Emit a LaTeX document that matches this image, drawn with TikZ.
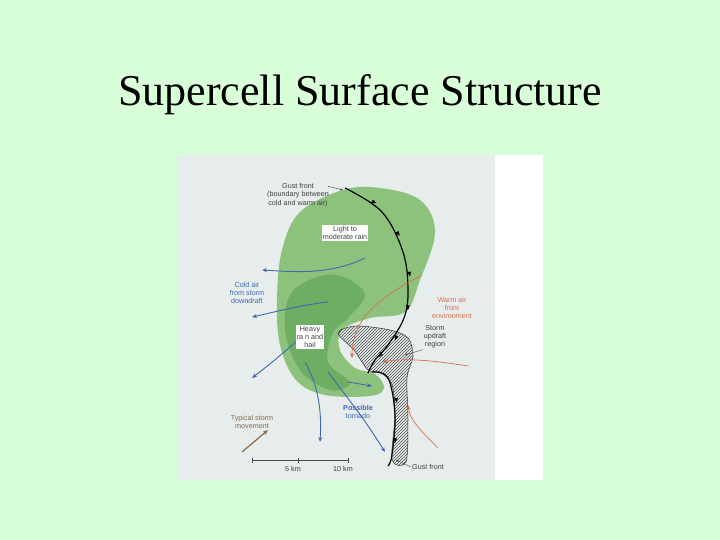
\documentclass[tikz,border=0pt]{standalone}
\usepackage{fontspec}
\setmainfont{Liberation Serif}
\newfontfamily\lab{Liberation Sans}
\usetikzlibrary{patterns,arrows.meta}
\definecolor{bg}{HTML}{D9FFD9}
\definecolor{panel}{HTML}{E6EDEC}
\definecolor{lgreen}{HTML}{8CC27C}
\definecolor{dgreen}{HTML}{6DAE62}
\definecolor{bluear}{HTML}{3F67B2}
\definecolor{redar}{HTML}{D8704E}
\definecolor{brownar}{HTML}{8A6A4A}
\tikzset{
 lbl/.style={font=\lab\fontsize{7.2}{8.2}\selectfont, align=center, text=black!75, inner sep=1pt},
 boxlbl/.style={lbl, fill=white},
 barrow/.style={bluear, line width=0.9pt, -{Stealth[length=5pt,width=4pt]}},
 rarrow/.style={redar, line width=0.7pt, -{Stealth[length=5pt,width=4pt]}},
 front/.style={black, line width=1.2pt},
}
\begin{document}
\begin{tikzpicture}[x=1pt,y=-1pt]
\fill[bg] (0,0) rectangle (720,540);
\useasboundingbox (0,0) rectangle (720,540);
\fill[panel] (177,155) rectangle (495,480);
\fill[white] (495,155) rectangle (543,480);
\node[font=\fontsize{44}{48}\selectfont] (title) at (360,95) {Supercell Surface Structure};
% outer rain area
\fill[lgreen] plot[smooth cycle, tension=0.6] coordinates {(343,190) (300,212) (282,250) (277,300) (280,345) (296,380) (325,395) (370,396) (384,388) (375,374) (355,368) (340,350) (342,330) (370,318) (405,312) (420,280) (435,232) (420,200) (380,188)};
% heavy rain core
\fill[dgreen] plot[smooth cycle, tension=0.6] coordinates {(292,292) (325,275) (350,280) (365,296) (348,318) (333,333) (328,362) (350,383) (330,390) (300,370) (285,330)};
% hatched updraft
\filldraw[draw=black!80, fill=white, line width=0.5pt, pattern=north east lines, pattern color=black!70] plot[smooth cycle, tension=0.5] coordinates {(338,333) (356,326) (390,330) (408,338) (413,356) (407,378) (408,420) (406,462) (392,460) (395,415) (392,385) (380,372) (368,370) (354,350)};
% gust front
\draw[front] plot[smooth, tension=0.6] coordinates {(345,188) (382,212) (403,252) (408,290) (404,318) (388,345) (375,360) (368,373)};
\draw[front] plot[smooth, tension=0.6] coordinates {(372,372) (388,378) (395,415) (392,455) (388,466)};
\foreach \p/\a in {(371,203)/-30,(395,233)/-60,(407,272)/-85,(406,305)/-100,(395,335)/-120,(380,352)/-135,(394,398)/-90,(393,438)/-95}
 \fill[black] \p -- ++(\a+90:4pt) -- ++(\a-15:5pt) -- cycle;
% blue arrows
\draw[barrow] (365,258) .. controls (330,275) and (295,272) .. (262,270);
\draw[barrow] (328,302) .. controls (300,305) and (275,312) .. (252,317);
\draw[barrow] (300,338) .. controls (285,352) and (265,368) .. (252,378);
\draw[barrow] (305,362) .. controls (318,385) and (322,410) .. (320,442);
\draw[barrow] (328,372) .. controls (345,395) and (362,415) .. (385,452);
\draw[barrow] (348,382) -- (372,386);
% red arrows
\draw[rarrow] (422,275) .. controls (385,295) and (352,315) .. (352,358);
\draw[rarrow] (468,366) .. controls (430,360) and (405,358) .. (382,362);
\draw[rarrow] (438,448) .. controls (420,430) and (410,420) .. (408,405);
% labels
\node[lbl] (gf) at (298,195) {Gust front\\(boundary between\\cold and warm air)};
\coordinate (gfend) at (343,190);
\draw[black!70, -{Stealth[length=3pt]}] (gf.north east) ++(-2,4) -- (gfend);
\node[boxlbl] (light) at (345,233) {Light to\\moderate rain};
\node[lbl, text=bluear] (cold) at (247,293) {Cold air\\from storm\\downdraft};
\node[lbl, text=redar] (warm) at (452,308) {Warm air\\from\\environment};
\node[lbl] (storm) at (435,337) {Storm\\updraft\\region};
\coordinate (stormpt) at (405,355);
\draw[black!70, -{Stealth[length=3pt]}] (storm.south west) -- (stormpt);
\node[boxlbl] (heavy) at (310,337) {Heavy\\ra n and\\hail};
\node[lbl, text=bluear] (torn) at (358,412) {\textbf{Possible}\\tornado};
\node[lbl, text=brownar] (typ) at (252,422) {Typical storm\\movement};
\coordinate (m1) at (242,452); \coordinate (m2) at (268,430);
\draw[brownar, line width=1.2pt, -{Stealth[length=5pt,width=4pt]}] (m1) -- (m2);
\coordinate (s0) at (252,460); \coordinate (s1) at (298,460); \coordinate (s2) at (348,460);
\draw[black!70, line width=0.5pt] (s0) -- (s2);
\foreach \c in {s0,s1,s2} \draw[black!70] (\c) ++(0,-2.5) -- ++(0,5);
\node[lbl] (km5) at (293,469) {5 km};
\node[lbl] (km10) at (343,469) {10 km};
\node[lbl] (gf2) at (428,467) {Gust front};
\coordinate (gf2end) at (396,460);
\draw[black!70, -{Stealth[length=3pt]}] (gf2.west) -- (gf2end);
\end{tikzpicture}
\end{document}
